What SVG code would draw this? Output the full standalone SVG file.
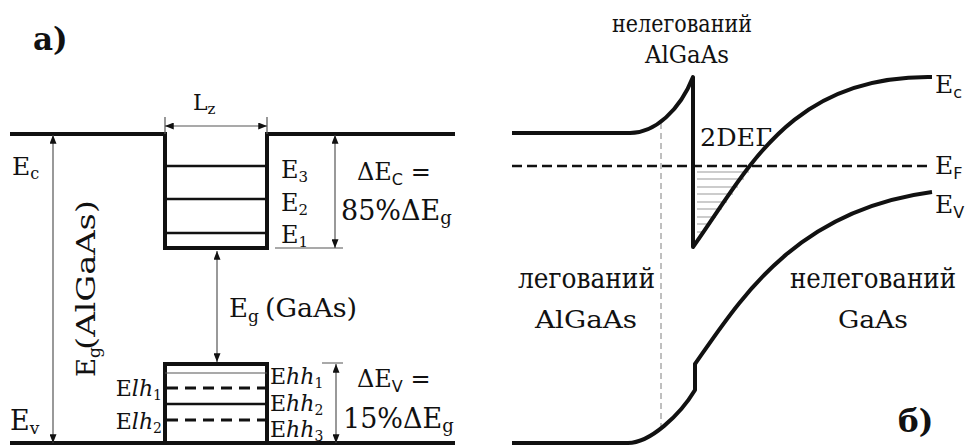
<svg xmlns="http://www.w3.org/2000/svg" width="977" height="446" viewBox="0 0 977 446">
<style>
text{fill:#111;font-family:"DejaVu Serif","Liberation Serif",serif}
.sub{font-family:"DejaVu Sans","Liberation Sans",sans-serif}
.b{font-weight:bold}
.thick{stroke:#111;stroke-width:4;fill:none}
.lvl{stroke:#111;stroke-width:2.5;fill:none}
.dash{stroke:#111;stroke-width:3;stroke-dasharray:11 7;fill:none}
.thin{stroke:#555;stroke-width:1.2;fill:none}
.arr{stroke:#555;stroke-width:1.2;fill:none;marker-start:url(#ah);marker-end:url(#ah)}
.gray{stroke:#aaa;stroke-width:1.5;stroke-dasharray:6 4;fill:none}
.hatch{stroke:#999;stroke-width:1}
</style>
<defs>
<marker id="ah" viewBox="0 0 10 8" refX="10" refY="4" markerWidth="9" markerHeight="7" markerUnits="userSpaceOnUse" orient="auto-start-reverse"><path d="M0,0 L10,4 L0,8 z" fill="#111"/></marker>
</defs>

<g id="panel-a">
  <g id="conduction-well">
    <path class="thick" d="M10,134 H165 V248 H267 V134 H455"/>
    <path class="lvl" d="M165,166 H267 M165,199 H267 M165,233 H267"/>
  </g>
  <g id="valence-well">
    <path class="thick" d="M10,443 H455 M165,443 V364 H267 V443"/>
    <path class="thin" stroke="#111" d="M165,373 H267"/>
    <path class="lvl" d="M165,404 H267"/>
    <path class="dash" d="M167,388 H267 M167,420 H267"/>
  </g>
  <g id="connectors">
    <path class="thin" d="M165,117 V134 M267,117 V134 M275,248 H343 M322,363 H343"/>
    <path class="arr" d="M165,126 H267"/>
    <path class="arr" d="M53,135 V443"/>
    <path class="arr" d="M335,135 V248"/>
    <path class="arr" d="M336,364 V443"/>
    <path class="arr" d="M217,251 V362"/>
  </g>
  <g id="labels-a">
    <text class="b" x="33" y="50" font-size="31">a)</text>
    <text x="193" y="110" font-size="22">L<tspan font-size="15" dy="4">z</tspan></text>
    <text x="12" y="175" font-size="25">E<tspan font-size="16" dy="4">c</tspan></text>
    <text x="10" y="430" font-size="27">E<tspan font-size="17" dy="4">v</tspan></text>
    <text x="281" y="178" font-size="24">E<tspan font-size="15" dy="4">3</tspan></text>
    <text x="281" y="211" font-size="24">E<tspan font-size="15" dy="4">2</tspan></text>
    <text x="281" y="243" font-size="24">E<tspan font-size="15" dy="4">1</tspan></text>
    <text x="357" y="180" font-size="24">ΔE<tspan class="sub" font-size="16" dy="5">C</tspan><tspan dy="-5"> =</tspan></text>
    <text x="341" y="220" font-size="27">85%ΔE<tspan font-size="18" dy="4">g</tspan></text>
    <text x="357" y="387" font-size="24">ΔE<tspan class="sub" font-size="16" dy="5">V</tspan><tspan dy="-5"> =</tspan></text>
    <text x="343" y="428" font-size="27">15%ΔE<tspan font-size="18" dy="4">g</tspan></text>
    <text x="229" y="317" font-size="26">E<tspan font-size="17" dy="5">g</tspan></text>
    <text x="265" y="317" font-size="26" textLength="92" lengthAdjust="spacingAndGlyphs">(GaAs)</text>
    <g transform="translate(95,377) rotate(-90)">
      <text x="0" y="0" font-size="26">E<tspan font-size="17" dy="5">g</tspan></text>
      <text x="27" y="0" font-size="26" textLength="150" lengthAdjust="spacingAndGlyphs">(AlGaAs)</text>
    </g>
    <text x="270" y="384" font-size="22">E<tspan font-style="italic">hh</tspan><tspan font-size="14" dy="4">1</tspan></text>
    <text x="270" y="411" font-size="22">E<tspan font-style="italic">hh</tspan><tspan font-size="14" dy="4">2</tspan></text>
    <text x="270" y="437" font-size="22">E<tspan font-style="italic">hh</tspan><tspan font-size="14" dy="4">3</tspan></text>
    <text x="162" y="396" font-size="22" text-anchor="end">E<tspan font-style="italic">lh</tspan><tspan font-size="14" dy="4">1</tspan></text>
    <text x="162" y="429" font-size="22" text-anchor="end">E<tspan font-style="italic">lh</tspan><tspan font-size="14" dy="4">2</tspan></text>
  </g>
</g>

<g id="panel-b">
  <g id="hatching">
    <path class="hatch" d="M697,172 H749 M697,179 H744 M697,187 H738 M697,194 H733 M697,202 H727 M697,209 H722 M697,217 H716 M697,224 H711 M697,232 H705"/>
  </g>
  <g id="bands">
    <path class="gray" d="M661,123 V427"/>
    <path stroke="#111" stroke-width="2.5" stroke-dasharray="10 5" fill="none" d="M512,166 H932"/>
    <path class="thick" stroke-linejoin="round" d="M512,133 H630 C655,133 680,110 693,77 V247 C748,170 790,75 932,77"/>
    <path class="thick" stroke-linejoin="round" d="M512,443 H628 C650,443 680,415 695,390 V364 C740,300 795,210 932,192"/>
  </g>
  <g id="labels-b">
    <text x="612" y="32" font-size="25" textLength="140" lengthAdjust="spacingAndGlyphs">нелегований</text>
    <text x="645" y="63" font-size="24" textLength="84" lengthAdjust="spacingAndGlyphs">AlGaAs</text>
    <text x="700" y="146" font-size="25" textLength="72" lengthAdjust="spacingAndGlyphs">2DEГ</text>
    <text x="935" y="93" font-size="25">E<tspan class="sub" font-size="16" dy="5">c</tspan></text>
    <text x="935" y="174" font-size="25">E<tspan class="sub" font-size="16" dy="5">F</tspan></text>
    <text x="935" y="213" font-size="25">E<tspan class="sub" font-size="16" dy="5">V</tspan></text>
    <text x="518" y="288" font-size="27" textLength="137" lengthAdjust="spacingAndGlyphs">легований</text>
    <text x="535" y="328" font-size="24" textLength="102" lengthAdjust="spacingAndGlyphs">AlGaAs</text>
    <text x="790" y="288" font-size="27" textLength="166" lengthAdjust="spacingAndGlyphs">нелегований</text>
    <text x="838" y="328" font-size="24" textLength="70" lengthAdjust="spacingAndGlyphs">GaAs</text>
    <text class="b" x="898" y="432" font-size="31">б)</text>
  </g>
</g>
</svg>
